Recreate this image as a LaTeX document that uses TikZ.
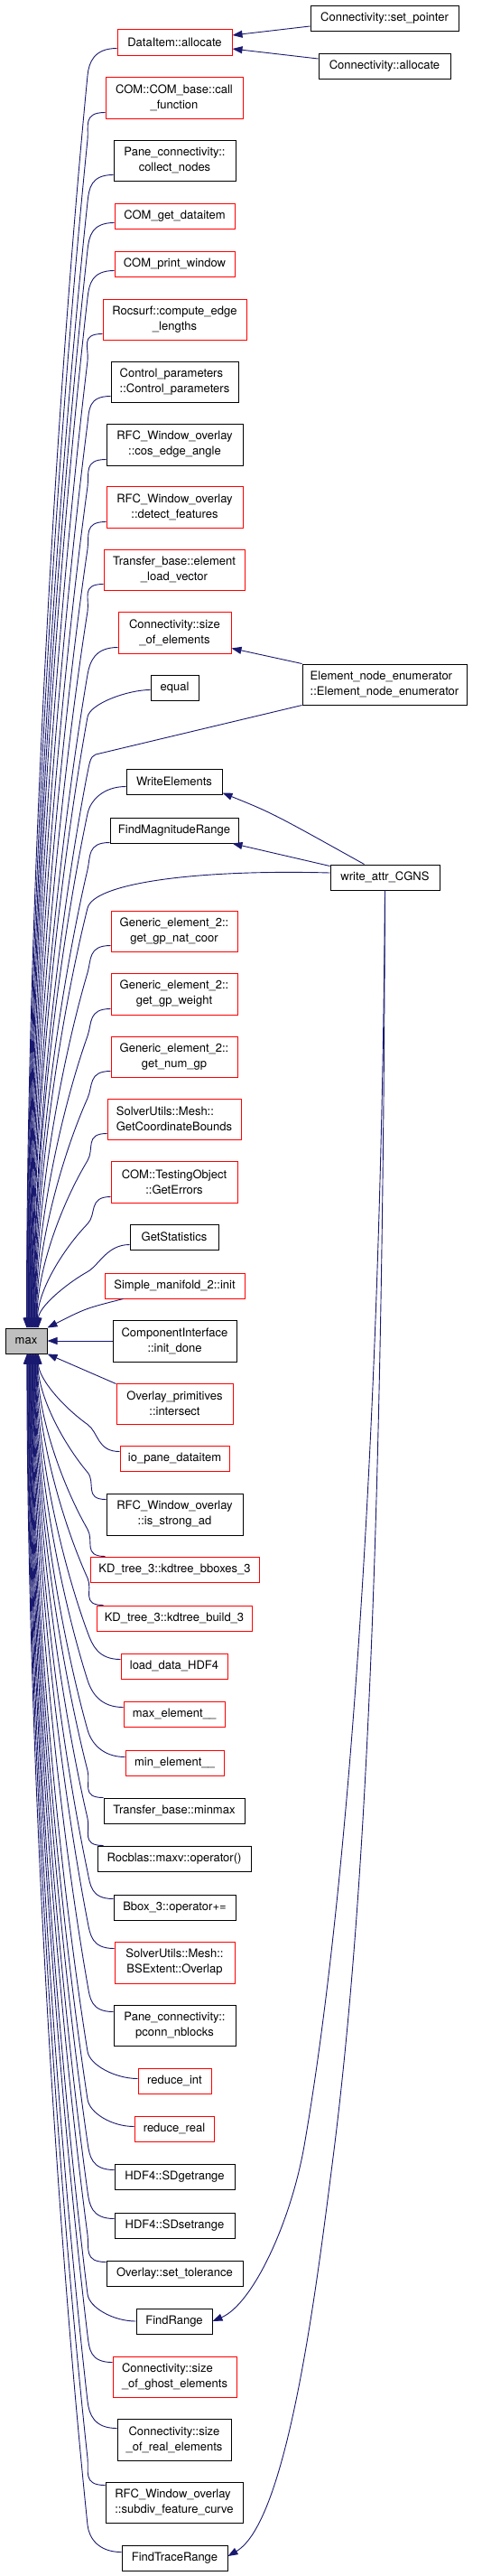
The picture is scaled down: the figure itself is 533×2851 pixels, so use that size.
\documentclass[tikz,border=0pt]{standalone}
\usepackage{fontspec}
\setmainfont{TeX Gyre Heros}
\usetikzlibrary{calc,arrows.meta}
\definecolor{edgecol}{RGB}{25,25,112}
\definecolor{boxred}{RGB}{255,0,0}
\definecolor{maxgray}{RGB}{191,191,191}
\tikzset{
 bx/.style={draw, rectangle, inner sep=0pt, line width=1pt, font=\fontsize{13}{17}\selectfont, align=center, fill=white},
 nb/.style={bx, draw=black},
 nr/.style={bx, draw=boxred},
 cedge/.style={draw=edgecol, line width=0.9pt, -{Triangle[length=11pt,width=8pt]}},
}
\newcommand{\fanedge}[3]{%
 \draw[cedge] let \p1=#1, \p3=#2, \p2=(97pt,{\y1#3}),
   \p4=({0.5*\x2+0.5*\x3},{\y2+0.25*(\y3-\y2)}) in
   (\p1) .. controls (\x1-25pt,\y1) and ($(\p2)!-15pt!(\p4)$) .. (\p2)
   .. controls (\p4) and (\x3,{\y3-0.35*(\y3-\y2)}) .. (\p3);}
\begin{document}
\begin{tikzpicture}[x=1pt,y=-1pt]
\useasboundingbox (0,0) rectangle (533,2851);
% right column
\node[nb, minimum width=164pt, minimum height=28pt] (sp) at (426,20) {Connectivity::set\_pointer};
\node[nb, minimum width=146pt, minimum height=28pt] (ca) at (426,73) {Connectivity::allocate};
\node[nb, minimum width=182pt, minimum height=45pt, align=left] (ene) at (426,757.5) {Element\_node\_enumerator\\::Element\_node\_enumerator};
\node[nb, minimum width=121pt, minimum height=28pt] (wac) at (426.5,971) {write\_attr\_CGNS};
% middle column
\node[nr, minimum width=127pt, minimum height=29pt] (di) at (193.5,46.5) {DataItem::allocate};
\node[nr, minimum width=152pt, minimum height=46pt] (cb) at (193,108) {COM::COM\_base::call\\\_function};
\node[nb, minimum width=135pt, minimum height=45pt] (cn) at (193.5,177.5) {Pane\_connectivity::\\collect\_nodes};
\node[nr, minimum width=133pt, minimum height=28pt] (gd) at (193.5,239) {COM\_get\_dataitem};
\node[nr, minimum width=133pt, minimum height=28pt] (pw) at (193.5,292) {COM\_print\_window};
\node[nr, minimum width=159pt, minimum height=45pt] (el) at (193.5,353.5) {Rocsurf::compute\_edge\\\_lengths};
\node[nb, minimum width=141pt, minimum height=45pt, align=left] (cp) at (193.5,422.5) {Control\_parameters\\::Control\_parameters};
\node[nb, minimum width=151pt, minimum height=46pt] (ce) at (193.5,492) {RFC\_Window\_overlay\\::cos\_edge\_angle};
\node[nr, minimum width=151pt, minimum height=46pt] (df) at (193.5,561) {RFC\_Window\_overlay\\::detect\_features};
\node[nr, minimum width=156pt, minimum height=45pt] (lv) at (193,630.5) {Transfer\_base::element\\\_load\_vector};
\node[nr, minimum width=125pt, minimum height=46pt] (se) at (193.5,700) {Connectivity::size\\\_of\_elements};
\node[nb, minimum width=53pt, minimum height=28pt] (eq) at (193.5,761) {equal};
\node[nb, minimum width=106pt, minimum height=28pt] (we) at (193,865) {WriteElements};
\node[nb, minimum width=142pt, minimum height=28pt] (fm) at (193,919) {FindMagnitudeRange};
\node[nr, minimum width=140pt, minimum height=45pt] (gnc) at (193,1030.5) {Generic\_element\_2::\\get\_gp\_nat\_coor};
\node[nr, minimum width=140pt, minimum height=46pt] (gw) at (193,1100) {Generic\_element\_2::\\get\_gp\_weight};
\node[nr, minimum width=140pt, minimum height=45pt] (gng) at (193,1169.5) {Generic\_element\_2::\\get\_num\_gp};
\node[nr, minimum width=148pt, minimum height=45pt, align=left] (gcb) at (193,1238.5) {SolverUtils::Mesh::\\GetCoordinateBounds};
\node[nr, minimum width=140pt, minimum height=46pt] (ge) at (193,1308) {COM::TestingObject\\::GetErrors};
\node[nb, minimum width=98pt, minimum height=28pt] (gs) at (193,1369) {GetStatistics};
\node[nr, minimum width=155pt, minimum height=28pt] (sm) at (193.5,1423) {Simple\_manifold\_2::init};
\node[nb, minimum width=46pt, minimum height=28pt, fill=maxgray] (mx) at (29,1484) {max};
\node[nb, minimum width=137pt, minimum height=46pt] (ind) at (193.5,1484) {ComponentInterface\\::init\_done};
\node[nr, minimum width=129pt, minimum height=45pt] (ovi) at (193.5,1553.5) {Overlay\_primitives\\::intersect};
\node[nr, minimum width=121pt, minimum height=28pt] (iop) at (193.5,1614) {io\_pane\_dataitem};
\node[nb, minimum width=151pt, minimum height=46pt] (isa) at (193.5,1676) {RFC\_Window\_overlay\\::is\_strong\_ad};
\node[nr, minimum width=187pt, minimum height=28pt] (kbb) at (193.5,1737) {KD\_tree\_3::kdtree\_bboxes\_3};
\node[nr, minimum width=172pt, minimum height=28pt] (kbd) at (193,1791) {KD\_tree\_3::kdtree\_build\_3};
\node[nr, minimum width=118pt, minimum height=28pt] (ldh) at (193,1844) {load\_data\_HDF4};
\node[nr, minimum width=112pt, minimum height=28pt] (mxe) at (193,1897) {max\_element\_\_};
\node[nr, minimum width=109pt, minimum height=28pt] (mne) at (193.5,1951) {min\_element\_\_};
\node[nb, minimum width=156pt, minimum height=28pt] (mm) at (193,2004) {Transfer\_base::minmax};
\node[nb, minimum width=170pt, minimum height=28pt] (rb) at (193,2057) {Rocblas::maxv::operator()};
\node[nb, minimum width=135pt, minimum height=28pt] (bb) at (193.5,2111) {Bbox\_3::operator+=};
\node[nr, minimum width=133pt, minimum height=46pt] (bse) at (193.5,2172) {SolverUtils::Mesh::\\BSExtent::Overlap};
\node[nb, minimum width=135pt, minimum height=45pt] (pcn) at (193.5,2241.5) {Pane\_connectivity::\\pconn\_nblocks};
\node[nr, minimum width=81pt, minimum height=28pt] (ri) at (193.5,2303) {reduce\_int};
\node[nr, minimum width=88pt, minimum height=28pt] (rr) at (193,2356) {reduce\_real};
\node[nb, minimum width=133pt, minimum height=28pt] (sdg) at (193.5,2409) {HDF4::SDgetrange};
\node[nb, minimum width=133pt, minimum height=28pt] (sds) at (193.5,2463) {HDF4::SDsetrange};
\node[nb, minimum width=151pt, minimum height=28pt] (stol) at (193.5,2516) {Overlay::set\_tolerance};
\node[nb, minimum width=84pt, minimum height=28pt] (fr) at (193,2569) {FindRange};
\node[nr, minimum width=137pt, minimum height=45pt, align=left] (sog) at (193.5,2630.5) {Connectivity::size\\\_of\_ghost\_elements};
\node[nb, minimum width=126pt, minimum height=46pt] (sor) at (193,2700) {Connectivity::size\\\_of\_real\_elements};
\node[nb, minimum width=152pt, minimum height=45pt, align=left] (sfc) at (193,2769.5) {RFC\_Window\_overlay\\::subdiv\_feature\_curve};
\node[nb, minimum width=117pt, minimum height=28pt] (ftr) at (193.5,2831) {FindTraceRange};

% right-column edges
\draw[cedge] ([yshift=-9pt]sp.west) -- ([yshift=7.5pt]di.east);
\draw[cedge] ([yshift=8pt]ca.west) -- ([yshift=-7.5pt]di.east);
\draw[cedge] (ene.north west) -- ([yshift=6pt]se.south east);
\draw[cedge] ([xshift=-23pt]wac.north) .. controls (302,900) .. ([yshift=2pt]we.south east);
\draw[cedge] ([yshift=-2pt]wac.north west) -- ([xshift=-7pt]fm.south east);
\draw[cedge] (wac.south) .. controls (422,1600) and (385,2100) .. (337,2375)
   .. controls (322,2460) and (280,2550) .. (fr.east);
\draw[cedge] (wac.south) .. controls (424,1700) and (405,2100) .. (370,2380)
   .. controls (352,2520) and (320,2790) .. ([yshift=2pt]ftr.east);

% edges into max from above
\fanedge{([yshift=8pt]di.south west)}{([xshift=24pt]mx.north west)}{-30pt}
\fanedge{([yshift=7pt]cb.south west)}{([xshift=24.6pt]mx.north west)}{-30pt}
\fanedge{([yshift=7pt]cn.south west)}{([xshift=25.2pt]mx.north west)}{-30pt}
\fanedge{([yshift=7pt]gd.south west)}{([xshift=25.8pt]mx.north west)}{-30pt}
\fanedge{([yshift=7pt]pw.south west)}{([xshift=26.4pt]mx.north west)}{-30pt}
\fanedge{([yshift=7pt]el.south west)}{([xshift=27pt]mx.north west)}{-30pt}
\fanedge{([yshift=7pt]cp.south west)}{([xshift=27.6pt]mx.north west)}{-30pt}
\fanedge{([yshift=7pt]ce.south west)}{([xshift=28.2pt]mx.north west)}{-30pt}
\fanedge{([yshift=7pt]df.south west)}{([xshift=28.8pt]mx.north west)}{-30pt}
\fanedge{([yshift=7pt]lv.south west)}{([xshift=29.4pt]mx.north west)}{-30pt}
\fanedge{([yshift=7pt]se.south west)}{([xshift=30pt]mx.north west)}{-30pt}
\fanedge{([yshift=12pt]eq.south west)}{([xshift=30.6pt]mx.north west)}{-30pt}
\draw[cedge] (ene.south west) -- (106,835) .. controls (99.5,837) and (99,846) .. (96,860)
   .. controls (67,1012) and (37.2,1257) .. ([xshift=31.2pt]mx.north west);
\fanedge{([yshift=9pt]we.south west)}{([xshift=31.8pt]mx.north west)}{-30pt}
\fanedge{([yshift=1pt]fm.south west)}{([xshift=32.4pt]mx.north west)}{-30pt}
\draw[cedge] ([yshift=5pt]wac.west) .. controls (220,962) and (104,977) .. (97,1005)
   .. controls (68,1121) and (39,1307) .. ([xshift=33pt]mx.north west);
\fanedge{([yshift=7pt]gnc.south west)}{([xshift=33.6pt]mx.north west)}{-30pt}
\fanedge{([yshift=7pt]gw.south west)}{([xshift=34.2pt]mx.north west)}{-30pt}
\fanedge{([yshift=7pt]gng.south west)}{([xshift=34.8pt]mx.north west)}{-30pt}
\fanedge{([yshift=7pt]gcb.south west)}{([xshift=35.4pt]mx.north west)}{-30pt}
\fanedge{([yshift=7pt]ge.south west)}{([xshift=36pt]mx.north west)}{-30pt}
\fanedge{([yshift=6pt]gs.south west)}{([xshift=37pt]mx.north west)}{-30pt}
\draw[cedge] ([xshift=21pt]sm.south west) .. controls (95,1448) .. (mx.north east);
\draw[cedge] (ind.west) -- (mx.east);
\draw[cedge] ([yshift=-1pt]ovi.north west) -- (mx.south east);

% edges into max from below
\fanedge{([yshift=-7pt]iop.north west)}{([xshift=37pt]mx.south west)}{+30pt}
\fanedge{([yshift=-7pt]isa.north west)}{([xshift=36.4pt]mx.south west)}{+30pt}
\fanedge{([xshift=17pt]kbb.north west)}{([xshift=35.8pt]mx.south west)}{+30pt}
\fanedge{([xshift=8pt]kbd.north west)}{([xshift=35.2pt]mx.south west)}{+30pt}
\fanedge{([yshift=-7pt]ldh.north west)}{([xshift=34.6pt]mx.south west)}{+30pt}
\fanedge{([yshift=-7pt]mxe.north west)}{([xshift=34pt]mx.south west)}{+30pt}
\fanedge{([yshift=-8pt]mne.north west)}{([xshift=33.4pt]mx.south west)}{+30pt}
\fanedge{(mm.north west)}{([xshift=32.8pt]mx.south west)}{+30pt}
\fanedge{([xshift=7pt]rb.north west)}{([xshift=32.2pt]mx.south west)}{+30pt}
\fanedge{([yshift=-5pt]bb.north west)}{([xshift=31.6pt]mx.south west)}{+30pt}
\fanedge{([yshift=-8pt]bse.north west)}{([xshift=31pt]mx.south west)}{+30pt}
\fanedge{([yshift=-8pt]pcn.north west)}{([xshift=30.4pt]mx.south west)}{+30pt}
\fanedge{([yshift=-12pt]ri.north west)}{([xshift=29.8pt]mx.south west)}{+30pt}
\fanedge{([yshift=-12pt]rr.north west)}{([xshift=29.2pt]mx.south west)}{+30pt}
\fanedge{([yshift=-7pt]sdg.north west)}{([xshift=28.6pt]mx.south west)}{+30pt}
\fanedge{([yshift=-7pt]sds.north west)}{([xshift=28pt]mx.south west)}{+30pt}
\fanedge{([yshift=-2pt]stol.north west)}{([xshift=27.4pt]mx.south west)}{+30pt}
\fanedge{(fr.west)}{([xshift=26.8pt]mx.south west)}{+30pt}
\fanedge{([yshift=-7pt]sog.north west)}{([xshift=26.2pt]mx.south west)}{+30pt}
\fanedge{([yshift=-11pt]sor.north west)}{([xshift=25.6pt]mx.south west)}{+30pt}
\fanedge{([yshift=-4pt]sfc.north west)}{([xshift=25pt]mx.south west)}{+30pt}
\fanedge{([yshift=-8pt]ftr.north west)}{([xshift=24.4pt]mx.south west)}{+30pt}
\end{tikzpicture}
\end{document}
